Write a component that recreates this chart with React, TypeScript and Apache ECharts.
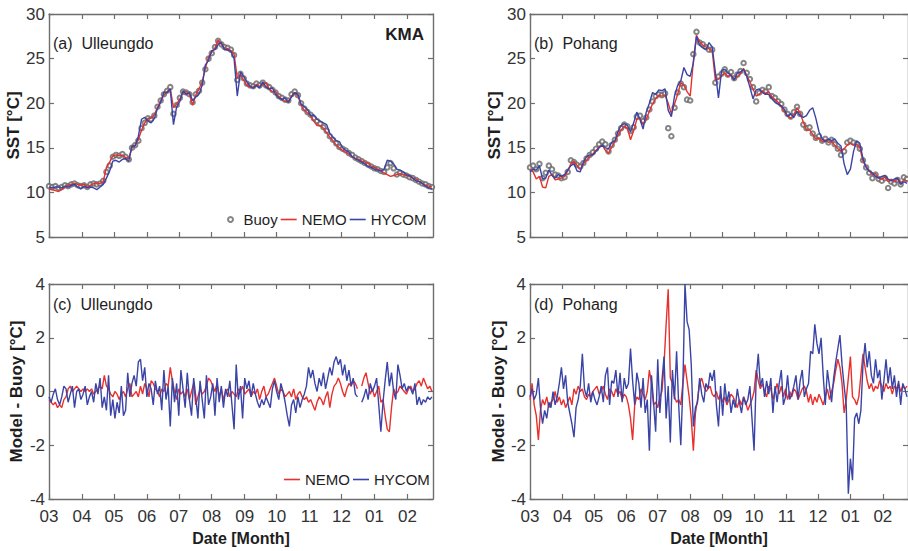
import React, { useEffect, useRef } from "react";
import * as echarts from "echarts";

// ---- axis definitions ----
const MONTH_START_DAYS = [0, 31, 61, 92, 122, 153, 184, 214, 245, 275, 306, 337];
const MONTH_LABELS = ["03", "04", "05", "06", "07", "08", "09", "10", "11", "12", "01", "02"];
const X_MAX = 361;
const SST_STEP = 3; // days between SST samples
const DIFF_STEP = 2; // days between difference samples
const SST_TICKS = { min: 5, max: 30, interval: 5 };
const DIFF_TICKS = { min: -4, max: 4, interval: 2 };

// ---- (a) Ulleungdo SST ----
const ulleungdoBuoy = [
  10.7, 10.6, 10.7, 10.5, 10.6, 10.8, 10.7, 10.9, 11.0, 10.8,
  10.7, 10.8, 10.6, 10.9, 11.0, 10.9, 11.0, 11.3, 12.3, 13.0,
  14.0, 14.2, 14.1, 14.3, 14.0, 13.7, 15.0, 15.3, 15.8, 17.2,
  17.8, 18.3, 18.2, 18.6, 19.6, 20.3, 21.0, 21.4, 21.8, 18.8,
  19.8, 20.6, 21.3, 21.2, 21.0, 20.1, 21.0, 21.4, 22.3, 23.8,
  25.0, 25.6, 26.3, 27.0, 26.6, 26.3, 26.2, 26.0, 25.4, 22.6,
  23.3, 22.8, 22.2, 22.0, 21.9, 22.2, 22.0, 22.3, 22.0, 21.8,
  21.5, 21.2, 20.8, 20.6, 20.4, 20.3, 21.0, 21.3, 20.9, 20.0,
  19.4, 19.0, 18.7, 18.3, 18.0, 17.7, 17.3, 16.9, 16.3, 15.9,
  15.5, 15.1, 14.9, 14.7, 14.4, 14.2, 13.9, 13.7, 13.5, 13.3,
  13.1, 12.9, 12.7, 12.6, 12.4, 12.3, 12.8, 13.3, 12.7, 12.0,
  12.2, 12.0, 11.9, 11.7, 11.6, 11.4, 11.2, 11.0, 10.9, 10.7,
  10.6,
];
const ulleungdoNemo = [
  10.4, 10.3, 10.2, 10.1, 10.3, 10.6, 10.8, 10.9, 11.0, 10.9,
  10.8, 10.9, 10.6, 10.8, 11.0, 11.0, 11.0, 11.2, 12.8, 13.4,
  14.1, 14.2, 14.1, 14.2, 13.9, 13.8, 15.0, 15.3, 15.9, 17.0,
  17.8, 18.3, 18.3, 18.7, 19.5, 20.3, 20.9, 21.3, 21.6, 19.5,
  19.9, 20.5, 21.2, 21.3, 21.0, 19.8, 20.9, 21.6, 22.4, 23.9,
  25.2, 25.7, 26.2, 27.1, 26.6, 26.2, 26.1, 25.9, 25.5, 22.8,
  23.2, 22.6, 22.0, 21.8, 21.8, 22.1, 21.9, 22.1, 22.3, 21.6,
  21.3, 21.3, 20.7, 20.5, 20.2, 20.2, 20.8, 21.2, 20.8, 19.8,
  19.2, 18.9, 18.6, 18.0, 17.5, 17.5, 17.2, 16.7, 16.2, 15.8,
  15.3, 15.0, 14.7, 14.5, 14.3, 14.0, 13.8, 13.7, 13.5, 13.4,
  13.3, 12.9, 12.8, 12.6, 12.4, 12.2, 12.0, 11.8, 11.9, 12.0,
  12.1, 12.0, 11.9, 11.8, 11.6, 11.5, 11.2, 11.0, 10.8, 10.7,
  10.6,
];
const ulleungdoHycom = [
  10.6, 10.5, 10.6, 10.6, 10.5, 10.7, 10.6, 10.8, 10.9, 10.6,
  10.4, 10.7, 10.5, 10.6, 10.5, 10.3, 10.6, 10.9, 11.6, 12.4,
  13.5, 13.6, 13.4, 13.7, 13.8, 13.5, 15.2, 15.2, 16.3, 18.2,
  18.4, 18.0, 17.8, 18.3, 19.4, 20.1, 21.2, 21.2, 21.6, 17.6,
  19.6, 20.2, 21.4, 21.0, 21.2, 20.3, 20.7, 21.0, 22.0, 24.3,
  24.8, 25.9, 26.0, 26.6, 26.8, 26.0, 26.0, 25.8, 25.0, 20.8,
  23.5, 23.0, 22.4, 21.9, 21.7, 22.0, 21.7, 22.4, 21.8, 21.6,
  21.7, 21.0, 20.6, 20.4, 20.6, 20.1, 20.7, 21.2, 21.0, 19.9,
  19.6, 19.3, 18.6, 18.7, 18.2, 18.0, 17.8, 17.6, 16.6, 16.2,
  15.8, 15.7, 15.0, 14.7, 14.5, 14.0, 13.8, 13.6, 13.4, 13.2,
  12.9, 12.8, 12.6, 12.5, 12.4, 12.6, 13.6, 13.5, 13.2, 12.6,
  12.5, 12.3, 12.0, 11.9, 11.6, 11.3, 11.2, 11.0, 10.7, 10.5,
  10.4,
];

// ---- (b) Pohang SST ----
const pohangBuoy = [
  12.8, 13.0, 12.6, 13.2, 11.6, 12.2, 13.0, 12.6, 12.0, 11.9,
  11.6, 11.7, 12.3, 13.6, 13.4, 13.1, 12.9, 13.3, 13.8, 14.2,
  14.5, 14.9, 15.4, 15.7, 15.4, 14.6, 15.3, 15.9, 16.6, 17.2,
  17.6, 17.4, 16.9, 17.3, 18.5, 18.6, 18.0, 18.4, 19.3, 20.2,
  20.8, 21.0, 20.9, 21.1, 17.2, 16.3, 19.5, 21.2, 22.2, 21.8,
  20.4, 20.3, 25.5, 28.0, 26.8, 26.6, 26.3, 26.0, 26.0, 22.3,
  23.0, 23.3, 23.8, 23.2, 23.5, 22.8, 23.2, 23.6, 24.5, 23.4,
  22.7, 21.8, 20.2, 21.2, 21.5, 21.3, 21.8, 20.8, 20.6, 20.2,
  19.9, 19.3, 18.8, 18.5, 19.0, 19.6, 18.8, 17.6, 17.2, 17.3,
  16.6, 16.1, 16.3, 15.8, 16.0, 15.6, 15.9, 15.4, 14.9, 14.2,
  14.6, 15.6, 15.8, 15.6, 15.4, 14.9, 13.6, 12.8, 12.2, 11.6,
  12.0, 11.5, 11.3, 11.6, 10.5, 11.2, 11.0, 11.4, 10.9, 11.7,
  11.5,
];
const pohangNemo = [
  12.6, 12.3, 11.5, 11.8, 10.6, 10.5, 11.8, 12.0, 11.4, 11.5,
  11.6, 11.8, 12.4, 13.2, 13.5, 13.0, 12.6, 13.2, 13.6, 14.0,
  14.3, 14.7, 15.1, 15.3, 14.7, 14.4, 15.1, 15.7, 16.4, 17.0,
  17.4, 17.2, 15.9, 16.9, 18.2, 18.3, 17.6, 18.2, 19.1, 19.9,
  20.5, 20.9, 20.8, 20.9, 20.0, 18.8, 19.9, 21.0, 22.3, 22.0,
  21.3, 20.8, 24.7, 27.6, 26.9, 26.5, 26.3, 26.1, 25.9, 22.6,
  22.7, 23.1, 23.4, 23.0, 23.2, 22.7, 23.0, 23.3, 23.9, 23.1,
  22.4, 21.6, 20.8, 21.0, 21.4, 21.1, 21.3, 20.7, 20.4, 20.1,
  19.6, 19.0, 18.6, 18.3, 18.7, 19.5, 18.9, 17.9, 17.0, 17.0,
  16.5, 16.0, 16.1, 15.7, 15.9, 15.6, 15.7, 15.3, 14.9, 14.6,
  14.9, 15.3, 15.5, 15.3, 15.4, 15.0, 13.5, 12.9, 12.4, 12.0,
  12.1, 11.6, 11.5, 11.7, 11.2, 11.4, 11.2, 11.5, 11.0, 11.4,
  11.3,
];
const pohangHycom = [
  12.3, 12.6, 12.5, 13.0, 11.5, 11.6, 12.5, 11.9, 11.6, 12.0,
  11.8, 12.0, 12.5, 13.0, 13.2, 12.4, 12.3, 13.4, 14.0, 14.2,
  14.2, 14.6, 15.0, 15.3, 15.0, 14.9, 15.6, 15.8, 16.8, 17.5,
  17.7, 17.5, 16.8, 17.8, 19.0, 18.2, 17.1, 19.0, 20.0, 21.2,
  21.0, 21.5, 21.4, 21.6, 19.2, 18.5, 20.8, 22.0, 22.5, 24.0,
  23.2, 23.0, 24.5, 27.5, 26.5, 26.2, 26.0, 26.8, 26.3, 23.5,
  20.6, 23.7, 23.8, 23.4, 23.1, 22.6, 23.4, 23.5, 23.8, 23.0,
  21.8, 20.5, 21.5, 21.6, 21.2, 21.0, 21.0, 20.5, 20.1, 19.9,
  19.7, 19.3, 18.5, 18.8, 18.4, 19.1, 18.6, 18.4, 18.6, 19.2,
  19.5, 18.3, 16.8, 16.0, 15.7, 16.0, 15.8, 16.0, 15.5, 15.2,
  13.2, 12.0, 12.6, 14.6, 15.8, 15.5, 13.8, 12.8, 12.4, 12.2,
  11.8, 11.6, 11.8, 11.9, 11.5, 11.3, 11.5, 11.6, 10.9, 11.2,
  11.0,
];

// ---- (c) Ulleungdo Model - Buoy ----
const ulleungdoNemoDiff = [
  -0.3, -0.4, -0.5, -0.4, -0.6, -0.5, -0.6, -0.3,
  -0.2, 0.1, 0.2, 0.0, 0.1, 0.2, 0.1, 0.0,
  0.1, 0.0, 0.1, 0.0, 0.1, -0.1, 0.0, 0.1,
  0.2, 0.1, 0.6, 0.2, 0.1, -0.1, -0.2, 0.0,
  -0.1, -0.3, -0.1, 0.0, -0.2, 0.1, 0.3, -0.2,
  -0.1, 0.0, -0.2, 0.2, -0.1, 0.3, 0.1, -0.2,
  0.4, 0.3, 0.1, 0.0, -0.2, 0.1, 0.0, 0.3,
  0.2, 0.9, 0.4, 0.0, -0.3, 0.1, -0.1, 0.0,
  -0.2, 0.1, -0.3, 0.0, 0.3, -0.5, -0.2, 0.1,
  -0.1, 0.0, 0.2, 0.5, 0.4, 0.2, 0.0, 0.3,
  -0.2, 0.1, -0.3, 0.0, 0.1, -0.2, 0.0, -0.1,
  -0.2, 0.1, 0.0, 0.2, -0.1, 0.0, 0.1, -0.2,
  0.0, -0.1, 0.1, -0.3, 0.0, 0.2, -0.2, -0.1,
  0.1, 0.3, 0.5, 0.2, -0.1, 0.1, 0.0, -0.2,
  -0.1, 0.0, -0.2, 0.1, -0.3, -0.1, 0.0, -0.2,
  -0.3, -0.2, -0.4, -0.3, -0.5, -0.7, -0.4, -0.2,
  -0.3, -0.5, -0.2, 0.0, -0.6, -0.1, 0.2, 0.3,
  0.5, 0.3, 0.0, -0.2, 0.1, 0.3, 0.2, 0.4,
  0.3, 0.1, null, 0.2, 0.5, 0.7, 0.3, -0.1,
  0.1, -0.2, 0.0, 0.2, -0.4, -0.3, -0.9, -1.4,
  -1.5, -0.6, 0.1, -0.1, 0.0, 0.2, 0.1, 0.0,
  -0.1, 0.1, 0.2, 0.0, 0.1, 0.3, 0.4, 0.2,
  0.5, 0.3, 0.1, 0.2, 0.0,
];
const ulleungdoHycomDiff = [
  -0.2, -0.4, -0.1, 0.1, -0.3, -0.5, -0.2, 0.2,
  0.1, -0.4, -0.1, 0.2, -0.6, 0.0, 0.1, -0.3,
  -0.1, 0.2, -0.5, -0.2, 0.0, -0.4, 0.3, -0.1,
  0.5, -0.6, -0.2, -0.7, 0.6, -0.9, -0.3, -1.0,
  -0.4, -0.8, 0.2, -0.9, -0.7, 0.7, -0.2, 0.3,
  0.6, 0.2, 1.1, 1.2, 0.4, 0.9, -0.2, 0.3,
  0.1, -0.5, 0.4, -0.1, 0.2, -0.7, 0.8, -0.3,
  0.2, -1.3, 0.5, -0.4, 0.3, -0.9, 0.8, 0.1,
  -0.6, 0.7, -0.3, -0.9, 0.5, -0.2, -1.0, 0.4,
  -0.3, -1.0, 0.6, -0.5, -0.2, 0.3, -0.9, 0.5,
  -0.4, 0.2, -0.6, 0.1, -0.2, 0.4, -0.5, -1.4,
  1.0, -0.3, 0.2, -1.0, 0.5, 0.1, 0.4, -0.2,
  0.3, -0.1, -0.4, -0.6, -0.3, -0.5, -0.2, -0.4,
  -0.6, 0.1, 0.4, 0.0, -0.3, 0.3, 0.0, -0.4,
  -0.9, -1.3, -0.5, -0.3, -0.8, -0.2, -0.6, -0.3,
  -0.1, 0.2, 0.9, 0.5, 0.8, 0.3, 0.0, 0.5,
  0.2, 0.7, 0.1, 0.5, 0.9, 0.6, 1.1, 1.3,
  1.0, 1.2, 0.6, 1.0, 0.4, 0.8, 0.2, 0.5,
  -0.1, -0.2, null, -0.4, -0.2, 0.1, -0.3, 0.3,
  0.0, 0.2, 0.5, -0.5, -1.5, -0.4, 0.4, 1.1,
  0.2, 0.7, 0.0, -0.3, 1.0, 0.6, 0.1, 0.3,
  0.0, 0.2, 0.1, -0.1, 0.3, -0.5, -0.2, -0.5,
  -0.3, -0.4, -0.2, -0.3, -0.2,
];

// ---- (d) Pohang Model - Buoy ----
const pohangNemoDiff = [
  -0.3, 0.3, -0.5, -0.9, -1.8, -0.7, -0.3, -0.5,
  -0.2, -0.6, -0.4, -0.3, 0.0, -0.4, -0.2, -0.5,
  -0.3, -0.6, -0.4, -0.2, -0.5, 0.1, -0.1, 0.2,
  0.0, 0.1, -0.2, -0.3, -0.1, -0.2, 0.0, 0.1,
  0.2, -0.1, 0.0, 0.2, -0.1, -0.3, 0.1, 0.0,
  -0.2, 0.1, -0.1, 0.0, -0.3, -0.1, -0.2, -0.5,
  -1.0, -1.8, -0.5, -0.2, -0.3, 0.1, -0.1, -0.3,
  0.0, 0.8, 0.3, -0.5, -0.4, -0.6, -0.2, 0.0,
  1.0, 2.5, 3.8, 0.5, 0.3, -0.2, -0.4, -0.3,
  -0.5, 0.3, 1.0, 0.4, -0.2, -1.0, -2.2, -0.8,
  -0.3, 0.3, 0.5, 0.2, 0.0, 0.1, 0.2, -0.1,
  -0.2, 0.0, -0.3, -0.1, -0.4, -0.2, -0.5, -0.3,
  -0.1, -0.2, -0.4, -0.6, -0.3, -0.5, -0.2, -0.4,
  -0.7, -0.5, -0.3, 0.0, 0.8, 0.4, 0.1, 0.3,
  0.0, -0.2, 0.2, 0.1, -0.3, 0.0, 0.3, -0.1,
  0.2, -0.2, 0.1, -0.3, 0.0, -0.2, 0.1, 0.0,
  -0.3, -0.1, 0.1, 0.2, 0.0, -0.4, -0.1, -0.5,
  -0.2, -0.4, -0.1, -0.3, -0.5, -0.2, 0.1, -0.3,
  0.0, 0.3, 0.8, 1.2, 0.9, 0.3, -0.8, -0.3,
  0.5, 1.3, -0.2, -0.3, -0.5, -0.2, 0.6, 1.4,
  0.9, 0.4, 0.1, 0.3, 0.0, 0.2, 0.1, 0.4,
  0.2, 0.0, 0.3, 0.1, 0.2, -0.1, 0.2, 0.1,
  0.3, 0.0, 0.2, 0.1, 0.2,
];
const pohangHycomDiff = [
  -0.2, 0.1, -0.3, -0.1, 0.5, -0.6, -1.2, -0.7,
  -1.0, -0.4, -0.6, 0.0, -0.5, -0.2, 0.3, 0.9,
  0.1, 0.6, -0.4, -0.8, -1.2, -1.7, -0.6, -0.3,
  0.2, 1.4, 0.1, -0.2, 0.3, -0.4, 0.0, -0.3,
  -0.5, -0.2, 0.2, -0.4, 0.6, 0.9, -0.5, 0.4,
  0.3, 0.8, -0.2, 0.7, -0.4, 0.5, 0.1, 0.3,
  1.6, 0.4, -0.5, 0.7, 0.3, -0.6, 0.5, -0.8,
  -0.3, -2.2, 0.6, -0.4, -1.5, 1.2, -0.8, 0.4,
  1.3, -1.0, 0.2, -1.9, 0.8, -0.3, 1.5, -0.5,
  -2.0, 0.2, 4.0, 2.6, 2.3, 1.0, -1.3, -0.6,
  -0.4, 0.5, -0.1, -0.4, 0.3, 0.1, 0.7, 0.4,
  0.8, -0.5, -1.3, 0.2, -0.9, 0.3, -0.4, 0.0,
  -0.8, -0.3, -0.6, 0.1, -0.4, -0.8, -0.2, -0.5,
  -0.3, 0.2, -1.0, -2.2, 0.5, 1.4, 0.2, 0.5,
  -0.2, 0.4, -0.1, 0.5, -0.8, 0.2, -0.4, 0.3,
  0.8, -0.5, -0.2, 0.6, -0.3, -0.1, 0.2, 0.6,
  -0.3, 0.4, 0.8, -0.2, 0.1, 0.3, 1.5, 1.4,
  2.5, 1.8, 1.4, 2.0, 0.6, -0.5, 0.8, 0.2,
  -0.4, 0.5, 1.1, 1.6, 2.1, 1.0, 0.2, -0.5,
  -3.8, -2.5, -3.3, -1.0, -0.8, -1.2, -0.7, 1.0,
  1.8, 0.9, 1.5, 0.6, 0.3, 1.2, 0.5, 0.8,
  -0.3, 0.4, 1.2, 0.3, 0.9, 0.1, 0.6, -0.2,
  0.4, -0.5, 0.3, 0.1, -0.2,
];

// ---- styling ----
const FONT = "'Liberation Sans', Arial, Helvetica, sans-serif";
const AXIS_COLOR = "#6e6e6e";
const TICK_TEXT = "#333333";
const NAME_TEXT = "#1e1e1e";
const NEMO_COLOR = "#e8302c";
const HYCOM_COLOR = "#3a44a6";
const BUOY_COLOR = "#666666";
const LINE_ICON = "path://M0,0L16,0L16,1.6L0,1.6Z";

const GRIDS = [
  { left: 49, top: 14, width: 384, height: 223 },
  { left: 530, top: 14, width: 384, height: 223 },
  { left: 49, top: 284, width: 384, height: 215 },
  { left: 530, top: 284, width: 384, height: 215 },
];

const toPoints = (vals: (number | null)[], step: number) =>
  vals.map((v, i) => [i * step, v]);

const monthLabel = (v: number) => {
  const idx = MONTH_START_DAYS.indexOf(Math.round(v));
  return idx >= 0 ? MONTH_LABELS[idx] : "";
};

function xAxis(gridIndex: number, position: "bottom" | "top", showLabels: boolean, name?: string) {
  return {
    type: "value",
    gridIndex,
    position,
    min: 0,
    max: X_MAX,
    axisLine: { show: true, onZero: false, lineStyle: { color: AXIS_COLOR, width: 1.4 } },
    axisTick: {
      show: true,
      inside: true,
      length: 5,
      customValues: MONTH_START_DAYS,
      lineStyle: { color: AXIS_COLOR, width: 1.2 },
    },
    axisLabel: {
      show: showLabels,
      customValues: MONTH_START_DAYS,
      formatter: monthLabel,
      margin: 9,
      fontSize: 17,
      fontFamily: FONT,
      color: TICK_TEXT,
    },
    splitLine: { show: false },
    name: name || "",
    nameLocation: "middle",
    nameGap: 31,
    nameTextStyle: { fontSize: 16, fontWeight: "bold", fontFamily: FONT, color: NAME_TEXT },
  };
}

function yAxis(
  gridIndex: number,
  position: "left" | "right",
  ticks: { min: number; max: number; interval: number },
  name?: string,
  nameGap?: number
) {
  return {
    type: "value",
    gridIndex,
    position,
    min: ticks.min,
    max: ticks.max,
    interval: ticks.interval,
    axisLine: { show: true, onZero: false, lineStyle: { color: AXIS_COLOR, width: 1.4 } },
    axisTick: { show: true, inside: true, length: 5, lineStyle: { color: AXIS_COLOR, width: 1.2 } },
    axisLabel: {
      show: position === "left",
      margin: 4,
      fontSize: 17,
      fontFamily: FONT,
      color: TICK_TEXT,
    },
    splitLine: { show: false },
    name: name || "",
    nameLocation: "middle",
    nameGap: nameGap || 30,
    nameRotate: 90,
    nameTextStyle: { fontSize: 17, fontWeight: "bold", fontFamily: FONT, color: NAME_TEXT },
  };
}

function lineSeries(name: string, color: string, axisIndex: number, vals: (number | null)[], step: number) {
  return {
    type: "line",
    name,
    xAxisIndex: axisIndex,
    yAxisIndex: axisIndex,
    data: toPoints(vals, step),
    symbol: "none",
    showSymbol: false,
    connectNulls: false,
    lineStyle: { color, width: 1.4 },
    itemStyle: { color },
    z: color === HYCOM_COLOR ? 4 : 3,
  };
}

function buoySeries(axisIndex: number, vals: number[]) {
  return {
    type: "scatter",
    name: "Buoy",
    xAxisIndex: axisIndex,
    yAxisIndex: axisIndex,
    data: toPoints(vals, SST_STEP),
    symbol: "emptyCircle",
    symbolSize: 4.5,
    itemStyle: { color: BUOY_COLOR, borderColor: BUOY_COLOR, borderWidth: 0.9 },
    z: 2,
  };
}

function panelText(x: number, y: number, text: string, bold = false, align = "left", size = 16) {
  return {
    type: "text",
    x,
    y,
    z: 10,
    style: {
      text,
      fontSize: size,
      fontWeight: bold ? "bold" : "normal",
      fontFamily: FONT,
      fill: NAME_TEXT,
      align,
      verticalAlign: "middle",
    },
  };
}

export default function App() {
  const ref = useRef<HTMLDivElement>(null);

  useEffect(() => {
    if (!ref.current) return;
    const chart = echarts.init(ref.current, null, { renderer: "svg" });
    const legendText = { fontSize: 15, fontFamily: FONT, color: NAME_TEXT };
    const option = {
      animation: false,
      backgroundColor: "#ffffff",
      grid: GRIDS,
      xAxis: [
        xAxis(0, "bottom", false),
        xAxis(1, "bottom", false),
        xAxis(2, "bottom", true, "Date [Month]"),
        xAxis(3, "bottom", true, "Date [Month]"),
        xAxis(0, "top", false),
        xAxis(1, "top", false),
        xAxis(2, "top", false),
        xAxis(3, "top", false),
      ],
      yAxis: [
        yAxis(0, "left", SST_TICKS, "SST [°C]", 27),
        yAxis(1, "left", SST_TICKS, "SST [°C]", 26),
        yAxis(2, "left", DIFF_TICKS, "Model - Buoy [°C]", 24),
        yAxis(3, "left", DIFF_TICKS, "Model - Buoy [°C]", 23),
        yAxis(0, "right", SST_TICKS),
        yAxis(1, "right", SST_TICKS),
        yAxis(2, "right", DIFF_TICKS),
        yAxis(3, "right", DIFF_TICKS),
      ],
      legend: [
        {
          left: 222,
          top: 207,
          itemWidth: 16,
          itemHeight: 5,
          itemGap: 3,
          selectedMode: false,
          textStyle: legendText,
          data: [
            { name: "Buoy", icon: "emptyCircle" },
            { name: "NEMO", icon: LINE_ICON },
            { name: "HYCOM", icon: LINE_ICON },
          ],
        },
        {
          left: 279,
          top: 467,
          itemWidth: 16,
          itemHeight: 5,
          itemGap: 3,
          selectedMode: false,
          textStyle: legendText,
          data: [
            { name: "NEMO", icon: LINE_ICON },
            { name: "HYCOM", icon: LINE_ICON },
          ],
        },
      ],
      series: [
        buoySeries(0, ulleungdoBuoy),
        lineSeries("NEMO", NEMO_COLOR, 0, ulleungdoNemo, SST_STEP),
        lineSeries("HYCOM", HYCOM_COLOR, 0, ulleungdoHycom, SST_STEP),
        buoySeries(1, pohangBuoy),
        lineSeries("NEMO", NEMO_COLOR, 1, pohangNemo, SST_STEP),
        lineSeries("HYCOM", HYCOM_COLOR, 1, pohangHycom, SST_STEP),
        lineSeries("NEMO", NEMO_COLOR, 2, ulleungdoNemoDiff, DIFF_STEP),
        lineSeries("HYCOM", HYCOM_COLOR, 2, ulleungdoHycomDiff, DIFF_STEP),
        lineSeries("NEMO", NEMO_COLOR, 3, pohangNemoDiff, DIFF_STEP),
        lineSeries("HYCOM", HYCOM_COLOR, 3, pohangHycomDiff, DIFF_STEP),
      ],
      graphic: [
        panelText(53, 43, "(a)  Ulleungdo"),
        panelText(424, 34, "KMA", true, "right", 17),
        panelText(534, 43, "(b)  Pohang"),
        panelText(53, 304, "(c)  Ulleungdo"),
        panelText(534, 304, "(d)  Pohang"),
      ],
    };
    chart.setOption(option as any);
    return () => chart.dispose();
  }, []);

  return (
    <div
      ref={ref}
      style={{ position: "fixed", left: 0, top: 0, width: 908, height: 551, background: "#fff" }}
    />
  );
}
